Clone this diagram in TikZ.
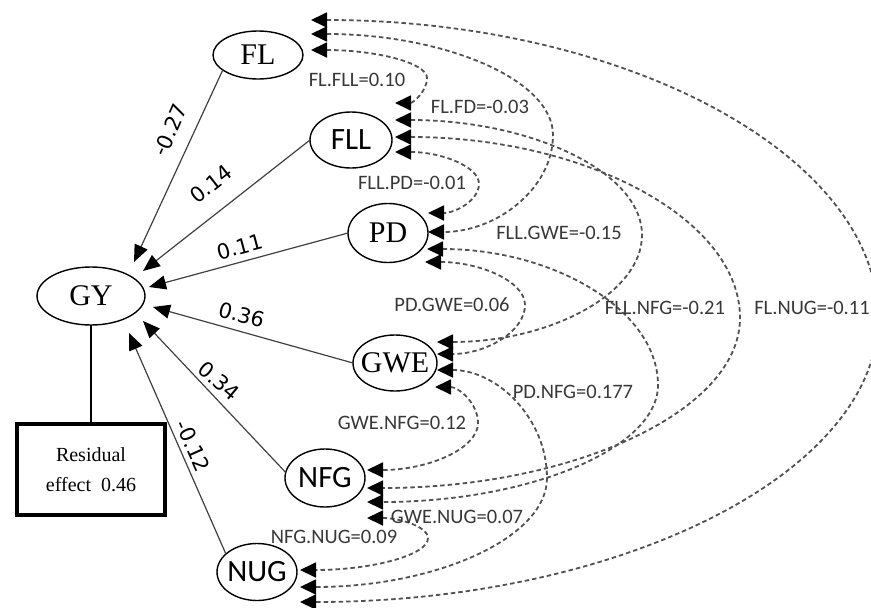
\documentclass[tikz,border=0pt]{standalone}
\usepackage{fontspec}
\setmainfont{Liberation Serif}
\newfontfamily\calibfont{Carlito}
\newfontfamily\dvfont{DejaVu Sans}
\usetikzlibrary{shapes.geometric,arrows.meta}
\begin{document}
\begin{tikzpicture}[x=1pt,y=-1pt,
  ell/.style={ellipse,draw=black,line width=1.4pt,inner sep=0pt,outer sep=0pt},
  serifnode/.style={font=\fontsize{30}{34}\selectfont},
  sansnode/.style={font=\calibfont\fontsize{31}{35}\selectfont},
  pathedge/.style={draw=black!75,line width=1.2pt,arrows={-Triangle[length=17pt,width=14pt,black]}},
  coef/.style={font=\dvfont\fontsize{21}{25}\selectfont,inner sep=0pt},
  corr/.style={draw=black!68,line width=1.8pt,dash pattern=on 4.5pt off 3pt,arrows={Triangle[length=16pt,width=15pt,black]-Triangle[length=16pt,width=15pt,black]}},
  corrlab/.style={font=\calibfont\fontsize{20.5}{24}\selectfont,text=black!78,inner sep=0pt}]
\useasboundingbox (0,0) rectangle (871,608);

% nodes
\node[ell,minimum width=90pt,minimum height=48pt,serifnode] (FL) at (258,55) {\makebox[0pt]{FL}};
\node[ell,minimum width=82pt,minimum height=56pt,sansnode] (FLL) at (351,140) {\makebox[0pt]{FLL}};
\node[ell,minimum width=80pt,minimum height=59pt,serifnode] (PD) at (388,233) {\makebox[0pt]{PD}};
\node[ell,minimum width=84pt,minimum height=56pt,serifnode] (GWE) at (395,363) {\makebox[0pt]{GWE}};
\node[ell,minimum width=80pt,minimum height=58pt,sansnode] (NFG) at (325,478) {\makebox[0pt]{NFG}};
\node[ell,minimum width=80pt,minimum height=57pt,sansnode] (NUG) at (257,572) {\makebox[0pt]{NUG}};
\node[ell,minimum width=108pt,minimum height=58pt,serifnode] (GY) at (91,296) {\makebox[0pt]{GY}};
\node[draw=black,line width=4pt,minimum width=148pt,minimum height=91pt,inner sep=0pt,align=center,font=\fontsize{20}{30}\selectfont] (res) at (91,469.5) {Residual\\effect\ \ 0.46};

\draw[line width=1.3pt] (GY.south) -- (res.north);

% direct paths
\coordinate (tFL) at (134,262);
\coordinate (tFLL) at (143,271);
\coordinate (tPD) at (149,287);
\coordinate (tGWE) at (153,307);
\coordinate (tNFG) at (143,321);
\coordinate (tNUG) at (129,333);
\draw[pathedge] (FL.203) -- (tFL);
\draw[pathedge] (FLL.west) -- (tFLL);
\draw[pathedge] (PD.west) -- (tPD);
\draw[pathedge] (GWE.west) -- (tGWE);
\draw[pathedge] (NFG.172) -- (tNFG);
\draw[pathedge] (NUG.150) -- (tNUG);

\node[coef,rotate=66] (c1) at (170,130) {-0.27};
\node[coef,rotate=38] (c2) at (211,184) {0.14};
\node[coef,rotate=15] (c3) at (240,247) {0.11};
\node[coef,rotate=-15] (c4) at (242,315) {0.36};
\node[coef,rotate=-40] (c5) at (219,381) {0.34};
\node[coef,rotate=-66] (c6) at (193,446) {-0.12};

% arrow tip points of the correlations
\coordinate (FLa) at (311,20);
\coordinate (FLb) at (311,34);
\coordinate (FLc) at (311,50);
\coordinate (FLLa) at (395,103);
\coordinate (FLLb) at (395,120);
\coordinate (FLLc) at (395,137);
\coordinate (FLLd) at (395,152);
\coordinate (PDa) at (428,213);
\coordinate (PDb) at (428,232);
\coordinate (PDc) at (427,249);
\coordinate (PDd) at (425,262);
\coordinate (GWEa) at (437,342);
\coordinate (GWEb) at (437,354);
\coordinate (GWEc) at (437,370);
\coordinate (GWEd) at (435,387);
\coordinate (NFGa) at (367,470);
\coordinate (NFGb) at (367,488);
\coordinate (NFGc) at (367,502);
\coordinate (NFGd) at (367,518);
\coordinate (NUGa) at (300,570);
\coordinate (NUGb) at (300,587);
\coordinate (NUGc) at (300,602);

% correlations
\draw[corr] (FLc) .. controls (375,50) and (427,62.6) .. (427,78) .. controls (427,91.8) and (412.6,103) .. (FLLa);
\draw[corr] (FLb) .. controls (444,34) and (553,79.4) .. (553,135) .. controls (553,188.4) and (496.8,232) .. (PDb);
\draw[corr] (FLa) .. controls (622.9,20) and (878,154.1) .. (878,318) .. controls (878,474.2) and (617.9,602) .. (NUGc);
\draw[corr] (FLLd) .. controls (441.2,152) and (479,166.4) .. (479,184) .. controls (479,200) and (456,213) .. (PDa);
\draw[corr] (FLLb) .. controls (530.9,120) and (642,171.75) .. (642,235) .. controls (642,293.85) and (549.75,342) .. (GWEa);
\draw[corr] (FLLc) .. controls (584.75,137) and (740,218.45) .. (740,318) .. controls (740,411.5) and (572.15,488) .. (NFGb);
\draw[corr] (PDd) .. controls (480,262) and (525,281.35) .. (525,305) .. controls (525,332) and (485.4,354) .. (GWEb);
\draw[corr] (PDc) .. controls (554,249) and (658,310.2) .. (658,385) .. controls (658,449.35) and (527,502) .. (NFGc);
\draw[corr] (GWEd) .. controls (458.65,387) and (478,403.2) .. (478,423) .. controls (478,448.85) and (428,470) .. (NFGa);
\draw[corr] (GWEc) .. controls (497.5,370) and (547,418.6) .. (547,478) .. controls (547,538) and (435.85,587) .. (NUGb);
\draw[corr] (NFGd) .. controls (400.55,518) and (428,527) .. (428,538) .. controls (428,555.6) and (370.4,570) .. (NUGa);

% correlation labels
\node[corrlab] (l1) at (357,80) {FL.FLL=0.10};
\node[corrlab] (l2) at (480,107) {FL.FD=-0.03};
\node[corrlab] (l3) at (412,183) {FLL.PD=-0.01};
\node[corrlab] (l4) at (559,233) {FLL.GWE=-0.15};
\node[corrlab] (l5) at (452,305) {PD.GWE=0.06};
\node[corrlab] (l6) at (665,308) {FLL.NFG=-0.21};
\node[corrlab] (l7) at (812,308) {FL.NUG=-0.11};
\node[corrlab] (l8) at (573,392) {PD.NFG=0.177};
\node[corrlab] (l9) at (402,423) {GWE.NFG=0.12};
\node[corrlab] (l10) at (457,517) {GWE.NUG=0.07};
\node[corrlab] (l11) at (334,537) {NFG.NUG=0.09};
\end{tikzpicture}
\end{document}
